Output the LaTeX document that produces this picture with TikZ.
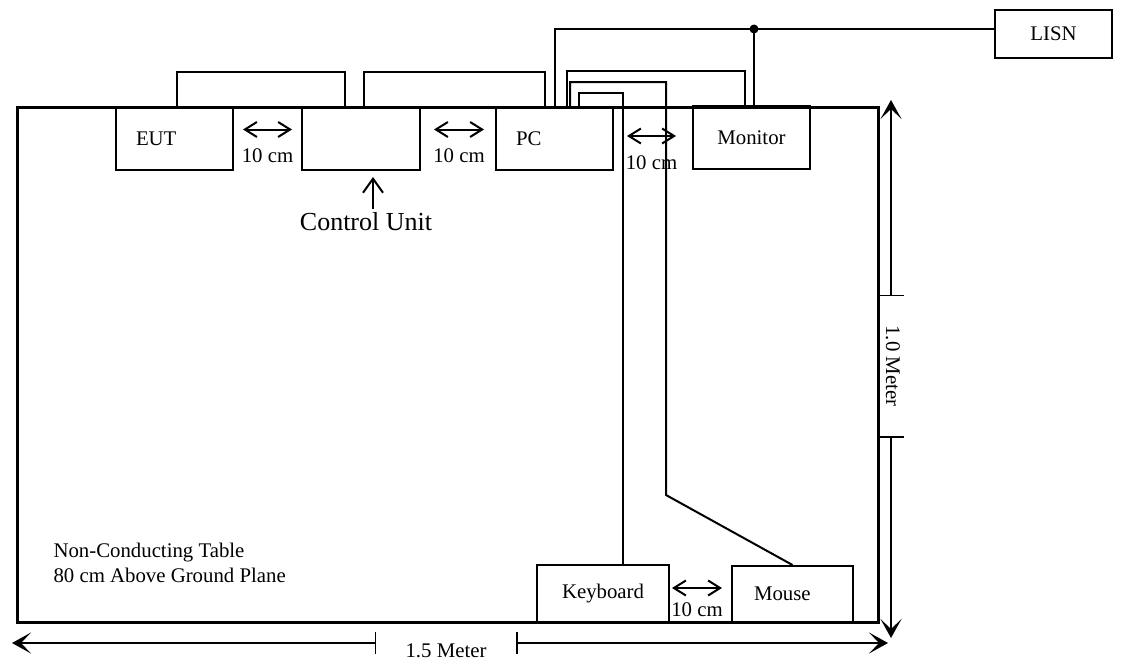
\documentclass[tikz,border=0pt]{standalone}
\usepackage{fontspec}
\setmainfont{Liberation Serif}
\usetikzlibrary{arrows.meta}

\begin{document}
\begin{tikzpicture}[x=1pt,y=-1pt,
	font=\fontsize{20.8}{25}\selectfont,
	tbl/.style={line width=3pt},
	unit/.style={draw,line width=2pt,rectangle,minimum width=117pt,
		minimum height=63pt,inner sep=0pt},
	lunit/.style={unit,align=left,text width=#1,inner xsep=20pt},
	cable/.style={line width=2pt},
	gap/.style={line width=2pt,
		{Straight Barb[length=12pt,width=15pt]}-{Straight Barb[length=12pt,width=15pt]}},
	pointer/.style={line width=2pt,-{Straight Barb[length=14pt,width=20pt]}},
	dim/.style={line width=1.5pt,{Bar[width=#1]}-{Stealth[length=19pt,width=21pt,inset=10pt]}},
	dot/.style={circle,fill,inner sep=0pt,minimum size=9pt}]
	
	\useasboundingbox (0,0) rectangle (1121,661);
	
	% The table
	\draw[tbl] (17,107) rectangle (878,622);
	\node[anchor=west,align=left] (note) at (50,563)
	{Non-Conducting Table\\80 cm Above Ground Plane};
	
	% Units
	\node[lunit=77pt] (eut) at (174.5,138.5) {EUT};
	\node[unit,minimum width=118pt] (cu) at (361,138.5) {};
	\node[lunit=77pt] (pc) at (554.5,138.5) {PC};
	\node[unit] (mon) at (751.5,137.5) {Monitor};
	\node[unit,minimum width=132pt,minimum height=57pt] (kbd) at (603,593.5) {Keyboard};
	\node[lunit=77pt,minimum width=121pt,minimum height=56pt,inner xsep=22pt]
	(mouse) at (792.5,594) {Mouse};
	\node[unit,minimum height=48pt] (lisn) at (1053.5,34) {LISN};
	
	% Cables
	\coordinate (jn) at (754,29);
	\coordinate (mbend) at (666,495);
	\draw[cable] ([xshift=2.5pt]eut.north) -- ++(0,-34) -| ([xshift=-16pt]cu.north);
	\draw[cable] ([xshift=3pt]cu.north) -- ++(0,-34) -| ([xshift=-9.5pt]pc.north);
	\draw[cable] (pc.north) |- (jn) -- ([yshift=5pt]lisn.west);
	\draw[cable] (jn) -- (jn |- mon.north);
	\node[dot] at (jn) {};
	\draw[cable] ([xshift=12.5pt]pc.north) -- ++(0,-35) -| ([xshift=-6.5pt]mon.north);
	\draw[cable] ([xshift=15.5pt]pc.north) -- ++(0,-24) -| (mbend) -- (mouse.north);
	\draw[cable] ([xshift=24.5pt]pc.north) -- ++(0,-13) -| ([xshift=20pt]kbd.north);
	
	% Spacing between units
	\draw[gap] ([shift={(9pt,9pt)}]eut.east) -- ([shift={(-9pt,9pt)}]cu.west)
	node[midway,below=15pt] {10 cm};
	\draw[gap] ([shift={(13pt,9pt)}]cu.east) -- ([shift={(-11pt,9pt)}]pc.west)
	node[midway,below=15pt] {10 cm};
	\draw[gap] ([shift={(13pt,2.5pt)}]pc.east) -- ([shift={(-16pt,1.5pt)}]mon.west)
	node[midway,below=15pt] {10 cm};
	\draw[gap] ([shift={(2pt,5.5pt)}]kbd.east) -- ([shift={(-9pt,6pt)}]mouse.west)
	node[midway,below=10pt] {10 cm};
	
	% Control unit label
	\node[font=\fontsize{26}{30}\selectfont] (culbl) at (366,222) {Control Unit};
	\draw[pointer] ([xshift=7pt]culbl.north) -- ([xshift=12pt,yshift=-6pt]cu.south);
	
	% Table size
	\coordinate (v1) at (891,296);
	\coordinate (v2) at (891,436);
	\node[rotate=-90] (vlbl) at (893,366) {1.0 Meter};
	\draw[dim=26pt] (v1) -- (891,100);
	\draw[dim=26pt] (v2) -- (891,638);
	\coordinate (h1) at (376,643);
	\coordinate (h2) at (516,643);
	\node (hlbl) at (446,651) {1.5 Meter};
	\draw[dim=22pt] (h1) -- (12,643);
	\draw[dim=22pt] (h2) -- (888,643);
	
\end{tikzpicture}
\end{document}
